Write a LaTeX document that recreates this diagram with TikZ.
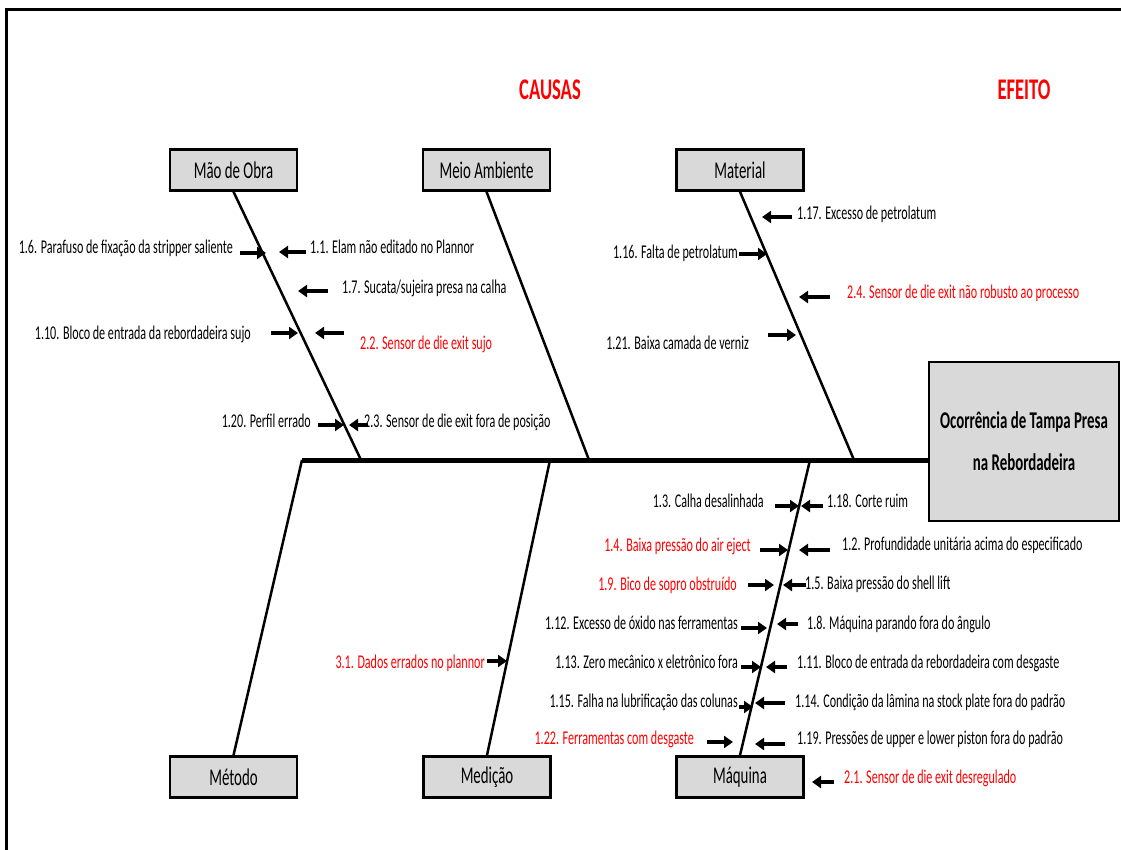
\documentclass[tikz,border=0pt]{standalone}
\usepackage{fontspec}
\usetikzlibrary{arrows.meta}
\newfontfamily\cf{Carlito}[FakeStretch=0.62]
\definecolor{boxgray}{RGB}{217,217,217}
\definecolor{causered}{RGB}{255,0,0}
\begin{document}
\begin{tikzpicture}[x=1pt,y=-1pt,
  causetxt/.style={inner sep=0pt,text height=14pt,text depth=5pt,font=\cf\fontsize{19.5}{22}\selectfont},
  redtxt/.style={causetxt,text=causered},
  catbox/.style={draw=black,line width=2.5pt,fill=boxgray,minimum width=127pt,minimum height=41pt,inner sep=0pt,font=\cf\fontsize{24}{28}\selectfont},
  bone/.style={line width=2.5pt},
  spine/.style={line width=5pt},
  carrow/.style={line width=3.5pt,-{Triangle[length=9pt,width=12pt]}},
  title/.style={text=causered,font=\cf\bfseries\fontsize{30}{34}\selectfont}]
\useasboundingbox (0,0) rectangle (1121,850);
% frame
\draw[line width=3pt] (6,850) -- (6,9.5) -- (1121,9.5);
% titles
\node[title] (causas) at (550,90) {CAUSAS};
\node[title] (efeito) at (1024,90) {EFEITO};
% category boxes
\node[catbox] (mao) at (233.5,170) {Mão de Obra};
\node[catbox] (meio) at (486.5,170) {Meio Ambiente};
\node[catbox] (mat) at (740,170) {Material};
\node[catbox] (met) at (233.5,777) {Método};
\node[catbox] (med) at (487,777) {Medição};
\node[catbox] (maq) at (740,777) {Máquina};
% effect box
\node[draw=black,line width=2.5pt,fill=boxgray,minimum width=190pt,minimum height=159pt,inner sep=0pt,align=center,
  font=\cf\bfseries\fontsize{24}{42}\selectfont] (effect) at (1024,441.5) {Ocorrência de Tampa Presa\\na Rebordadeira};
% spine
\coordinate (spL) at (302,460);
\draw[spine] (spL) -- (spL -| effect.west);
% bones
\coordinate (maoS) at (361,460);
\coordinate (meioS) at (589,460);
\coordinate (matS) at (854,460);
\coordinate (medS) at (550,460);
\coordinate (maqS) at (810,460);
\draw[bone] (mao.south) -- (maoS);
\draw[bone] (meio.south) -- (meioS);
\draw[bone] (mat.south) -- (matS);
\draw[bone] (met.north) -- (spL);
\draw[bone] (med.north) -- (medS);
\draw[bone] (maq.north) -- (maqS);
% ---- Mao de Obra causes
\node[causetxt,anchor=east] (c16) at (233,249) {1.6. Parafuso de fixação da stripper saliente};
\node[causetxt,anchor=east] (c110) at (251,335) {1.10. Bloco de entrada da rebordadeira sujo};
\node[causetxt,anchor=east] (c120) at (311,423) {1.20. Perfil errado};
\node[causetxt,anchor=west] (c11) at (310,249) {1.1. Elam não editado no Plannor};
\node[causetxt,anchor=west] (c17) at (342,289) {1.7. Sucata/sujeira presa na calha};
\node[redtxt,anchor=west] (c22) at (360,345) {2.2. Sensor de die exit sujo};
\node[causetxt,anchor=west] (c23) at (364,423) {2.3. Sensor de die exit fora de posição};
\coordinate (a16s) at (240,253); \coordinate (a16e) at (266,253);
\coordinate (a11s) at (306,252); \coordinate (a11e) at (279,252);
\coordinate (a17s) at (328,291); \coordinate (a17e) at (298,291);
\coordinate (a110s) at (271,333); \coordinate (a110e) at (298,333);
\coordinate (a22s) at (344,333); \coordinate (a22e) at (315,333);
\coordinate (a120s) at (318,425); \coordinate (a120e) at (344,425);
\coordinate (a23s) at (368,425); \coordinate (a23e) at (349,425);
\draw[carrow] (a16s) -- (a16e);
\draw[carrow] (a11s) -- (a11e);
\draw[carrow] (a17s) -- (a17e);
\draw[carrow] (a110s) -- (a110e);
\draw[carrow] (a22s) -- (a22e);
\draw[carrow] (a120s) -- (a120e);
\draw[carrow] (a23s) -- (a23e);
% ---- Material causes
\node[causetxt,anchor=west] (c117) at (797,215) {1.17. Excesso de petrolatum};
\node[causetxt,anchor=east] (c116) at (738,254) {1.16. Falta de petrolatum};
\node[redtxt,anchor=west] (c24) at (847,294) {2.4. Sensor de die exit não robusto ao processo};
\node[causetxt,anchor=east] (c121) at (749,345) {1.21. Baixa camada de verniz};
\coordinate (a117s) at (792,217); \coordinate (a117e) at (762,217);
\coordinate (a116s) at (739,254); \coordinate (a116e) at (767,254);
\coordinate (a24s) at (830,297); \coordinate (a24e) at (799,297);
\coordinate (a121s) at (768,335); \coordinate (a121e) at (796,335);
\draw[carrow] (a117s) -- (a117e);
\draw[carrow] (a116s) -- (a116e);
\draw[carrow] (a24s) -- (a24e);
\draw[carrow] (a121s) -- (a121e);
% ---- Medicao
\node[redtxt,anchor=east] (c31) at (485,664) {3.1. Dados errados no plannor};
\coordinate (a31s) at (487,661); \coordinate (a31e) at (507,661);
\draw[carrow] (a31s) -- (a31e);
% ---- Maquina causes
\node[causetxt,anchor=east] (c13) at (764,503) {1.3. Calha desalinhada};
\node[causetxt,anchor=west] (c118) at (827,503) {1.18. Corte ruim};
\node[redtxt,anchor=east] (c14) at (751,547) {1.4. Baixa pressão do air eject};
\node[causetxt,anchor=west] (c12) at (842,546) {1.2. Profundidade unitária acima do especificado};
\node[redtxt,anchor=east] (c19) at (737,586) {1.9. Bico de sopro obstruído};
\node[causetxt,anchor=west] (c15) at (805,585) {1.5. Baixa pressão do shell lift};
\node[causetxt,anchor=east] (c112) at (738,625) {1.12. Excesso de óxido nas ferramentas};
\node[causetxt,anchor=west] (c18) at (807,625) {1.8. Máquina parando fora do ângulo};
\node[causetxt,anchor=east] (c113) at (738,664) {1.13. Zero mecânico x eletrônico fora};
\node[causetxt,anchor=west] (c111) at (797,664) {1.11. Bloco de entrada da rebordadeira com desgaste};
\node[causetxt,anchor=east] (c115) at (738,703) {1.15. Falha na lubrificação das colunas};
\node[causetxt,anchor=west] (c114) at (795,703) {1.14. Condição da lâmina na stock plate fora do padrão};
\node[redtxt,anchor=east] (c122) at (694,740) {1.22. Ferramentas com desgaste};
\node[causetxt,anchor=west] (c119) at (797,740) {1.19. Pressões de upper e lower piston fora do padrão};
\node[redtxt,anchor=west] (c21) at (844,779) {2.1. Sensor de die exit desregulado};
\coordinate (a13s) at (775,506); \coordinate (a13e) at (799,506);
\coordinate (a118s) at (823,506); \coordinate (a118e) at (801,506);
\coordinate (a14s) at (760,550); \coordinate (a14e) at (788,550);
\coordinate (a12s) at (830,550); \coordinate (a12e) at (799,550);
\coordinate (a19s) at (748,585); \coordinate (a19e) at (774,585);
\coordinate (a15s) at (806,585); \coordinate (a15e) at (783,585);
\coordinate (a112s) at (741,628); \coordinate (a112e) at (767,628);
\coordinate (a18s) at (798,624); \coordinate (a18e) at (777,624);
\coordinate (a113s) at (741,667); \coordinate (a113e) at (761,667);
\coordinate (a111s) at (787,667); \coordinate (a111e) at (766,667);
\coordinate (a115s) at (739,707); \coordinate (a115e) at (753,707);
\coordinate (a114s) at (785,703); \coordinate (a114e) at (755,703);
\coordinate (a122s) at (707,742); \coordinate (a122e) at (733,742);
\coordinate (a119s) at (785,744); \coordinate (a119e) at (755,744);
\coordinate (a21s) at (834,782); \coordinate (a21e) at (812,782);
\draw[carrow] (a13s) -- (a13e);
\draw[carrow] (a118s) -- (a118e);
\draw[carrow] (a14s) -- (a14e);
\draw[carrow] (a12s) -- (a12e);
\draw[carrow] (a19s) -- (a19e);
\draw[carrow] (a15s) -- (a15e);
\draw[carrow] (a112s) -- (a112e);
\draw[carrow] (a18s) -- (a18e);
\draw[carrow] (a113s) -- (a113e);
\draw[carrow] (a111s) -- (a111e);
\draw[carrow] (a115s) -- (a115e);
\draw[carrow] (a114s) -- (a114e);
\draw[carrow] (a122s) -- (a122e);
\draw[carrow] (a119s) -- (a119e);
\draw[carrow] (a21s) -- (a21e);
\end{tikzpicture}
\end{document}
